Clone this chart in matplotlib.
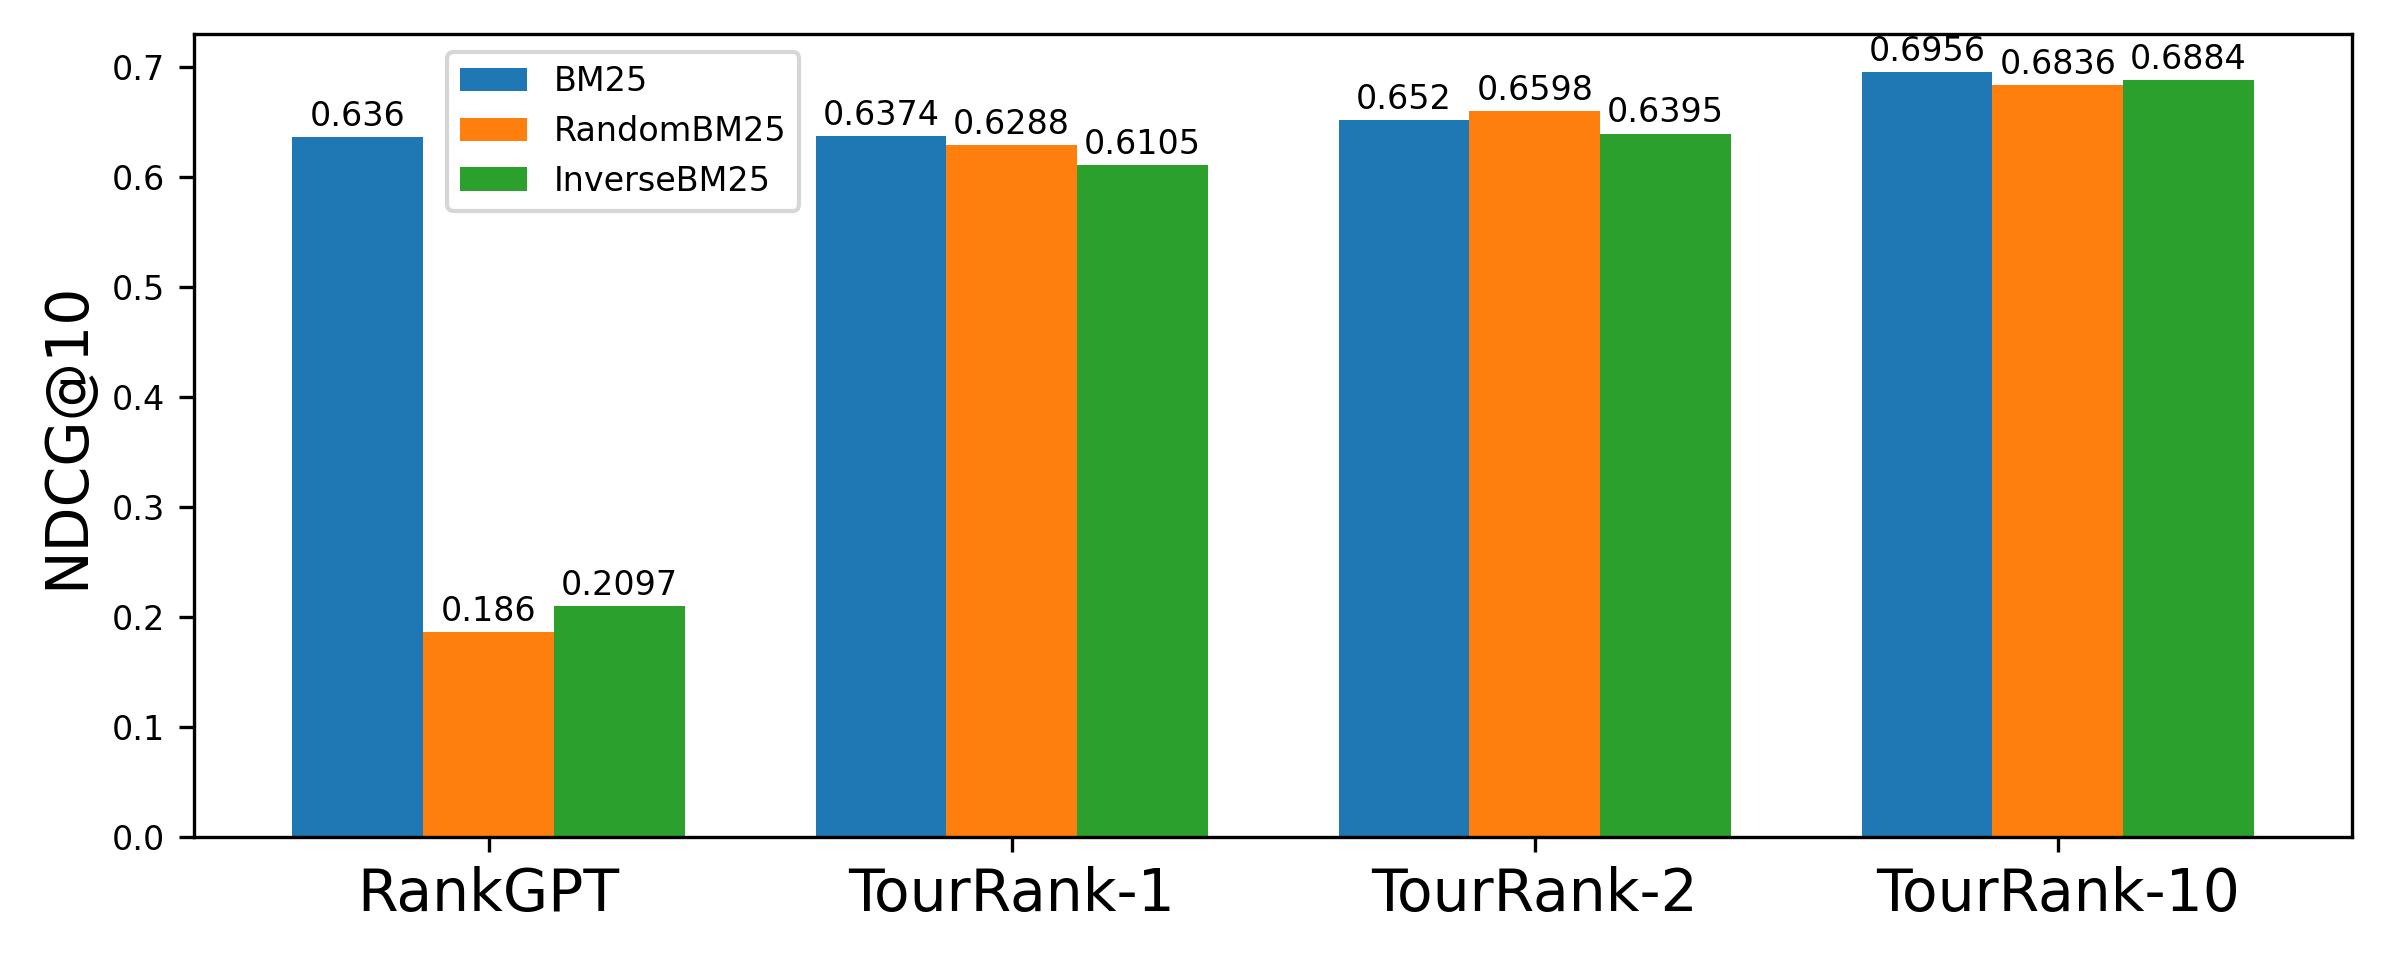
import matplotlib.pyplot as plt
import numpy as np

methods = ['RankGPT', 'TourRank-1', 'TourRank-2', 'TourRank-10']
bm25 = [0.636, 0.6374, 0.652, 0.6956]
random_bm25 = [0.186, 0.6288, 0.6598, 0.6836]
inverse_bm25 = [0.2097, 0.6105, 0.6395, 0.6884]
series_names = ['BM25', 'RandomBM25', 'InverseBM25']


def main():
    fig, ax = plt.subplots(figsize=(8, 3.2), dpi=300)
    x = np.arange(len(methods))
    width = 0.25
    all_series = [bm25, random_bm25, inverse_bm25]
    for i, (vals, name) in enumerate(zip(all_series, series_names)):
        bars = ax.bar(x + (i - 1) * width, vals, width, label=name)
        ax.bar_label(bars, labels=[str(v) for v in vals], fontsize=8, padding=1)

    ax.set_xticks(x)
    ax.set_xticklabels(methods, fontsize=14)
    ax.tick_params(axis='y', labelsize=8)
    ax.set_ylabel('NDCG@10', fontsize=14)
    ax.legend(fontsize=8, loc='upper left', bbox_to_anchor=(0.117, 0.977), borderaxespad=0)

    plt.subplots_adjust(left=0.081, right=0.98, top=0.965, bottom=0.128)
    plt.savefig('out.png', dpi=300)


if __name__ == '__main__':
    main()
